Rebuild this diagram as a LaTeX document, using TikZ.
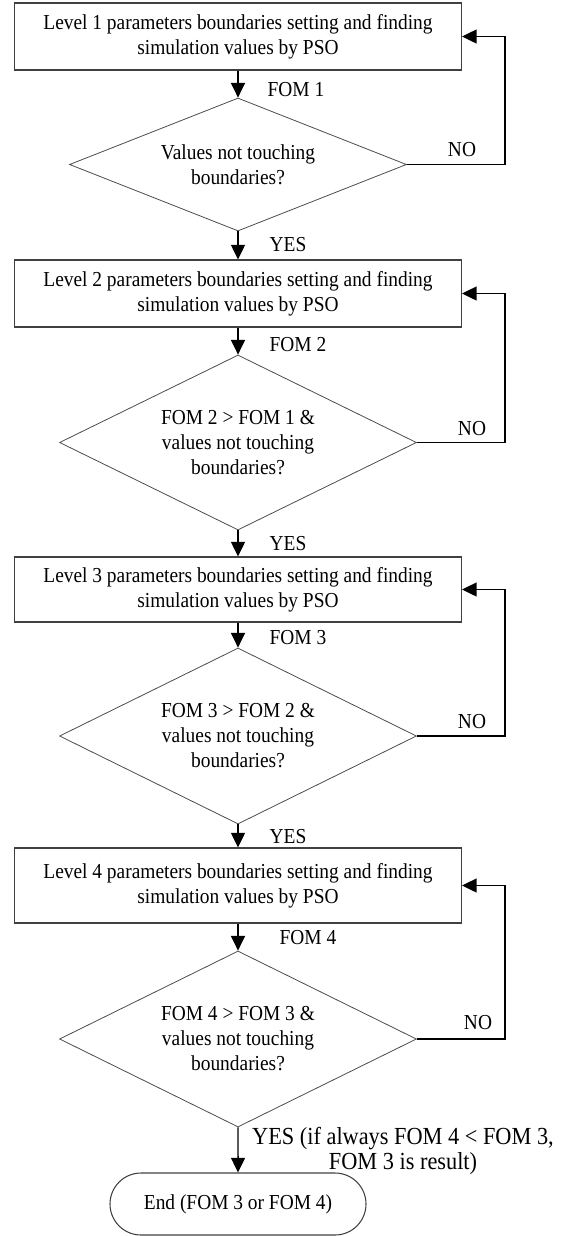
\documentclass[tikz,border=0pt]{standalone}
\usepackage{fontspec}
\setmainfont{Liberation Serif}[FakeStretch=0.91]
\usetikzlibrary{arrows.meta,shapes.geometric,shapes.misc}
\begin{document}
\begin{tikzpicture}[x=0.75pt,y=-0.75pt,
  every node/.style={font=\fontsize{16}{18.75}\selectfont, text=black},
  procbox/.style={draw=black!75, line width=0.8pt, rectangle, minimum width=335.25pt, inner sep=0pt, align=center},
  decbox/.style={draw=black!70, line width=0.6pt, diamond, inner sep=0pt, align=center, aspect=2, minimum width=267.75pt, minimum height=132pt},
  endbox/.style={draw=black!75, line width=0.8pt, rounded rectangle, minimum width=192pt, minimum height=46.5pt, inner sep=0pt},
  flow/.style={line width=1.1pt, -{Triangle[length=11pt,width=10.5pt]}},
  lbl/.style={inner sep=0pt}
]
\useasboundingbox (0,0) rectangle (570,1236);
\coordinate (rx) at (505,0);

\node[procbox, minimum height=50.25pt] (b1) at (238,36.5) {Level 1 parameters boundaries setting and finding\\simulation values by PSO};
\node[decbox, aspect=2.5, minimum width=252.75pt, minimum height=99.75pt] (d1) at (238,164.5) {Values not touching\\boundaries?};
\node[procbox, minimum height=50.25pt] (b2) at (238,293.5) {Level 2 parameters boundaries setting and finding\\simulation values by PSO};
\node[decbox, minimum height=131.25pt] (d2) at (238,442.5) {FOM 2 > FOM 1 \&\\values not touching\\boundaries?};
\node[procbox, minimum height=48.75pt] (b3) at (238,589.5) {Level 3 parameters boundaries setting and finding\\simulation values by PSO};
\node[decbox] (d3) at (238,736) {FOM 3 > FOM 2 \&\\values not touching\\boundaries?};
\node[procbox, minimum height=56.25pt] (b4) at (238,885.5) {Level 4 parameters boundaries setting and finding\\simulation values by PSO};
\node[decbox] (d4) at (238,1039) {FOM 4 > FOM 3 \&\\values not touching\\boundaries?};
\node[endbox] (e) at (238,1204) {End (FOM 3 or FOM 4)};

\draw[flow] (b1) -- (d1);
\draw[flow] (d1) -- (b2);
\draw[flow] (b2) -- (d2);
\draw[flow] (d2) -- (b3);
\draw[flow] (b3) -- (d3);
\draw[flow] (d3) -- (b4);
\draw[flow] (b4) -- (d4);
\draw[flow] (d4) -- (e);

\draw[flow] (d1.east) -- (d1.east -| rx) |- (b1.east);
\draw[flow] (d2.east) -- (d2.east -| rx) |- (b2.east);
\draw[flow] (d3.east) -- (d3.east -| rx) |- (b3.east);
\draw[flow] (d4.east) -- (d4.east -| rx) |- (b4.east);

\node[lbl] (f1) at (296,90) {FOM 1};
\node[lbl] (f2) at (298,345) {FOM 2};
\node[lbl] (f3) at (298,638) {FOM 3};
\node[lbl] (f4) at (308,938) {FOM 4};
\node[lbl] (y1) at (288,245) {YES};
\node[lbl] (y2) at (288,544) {YES};
\node[lbl] (y3) at (288,837) {YES};
\node[lbl] (n1) at (462,150) {NO};
\node[lbl] (n2) at (472,429) {NO};
\node[lbl] (n3) at (472,722) {NO};
\node[lbl] (n4) at (478,1023) {NO};
\node[lbl, align=center, font=\fontsize{18.4}{18.75}\selectfont] (y4) at (403,1151) {YES (if always FOM 4 < FOM 3,\\FOM 3 is result)};
\end{tikzpicture}
\end{document}
